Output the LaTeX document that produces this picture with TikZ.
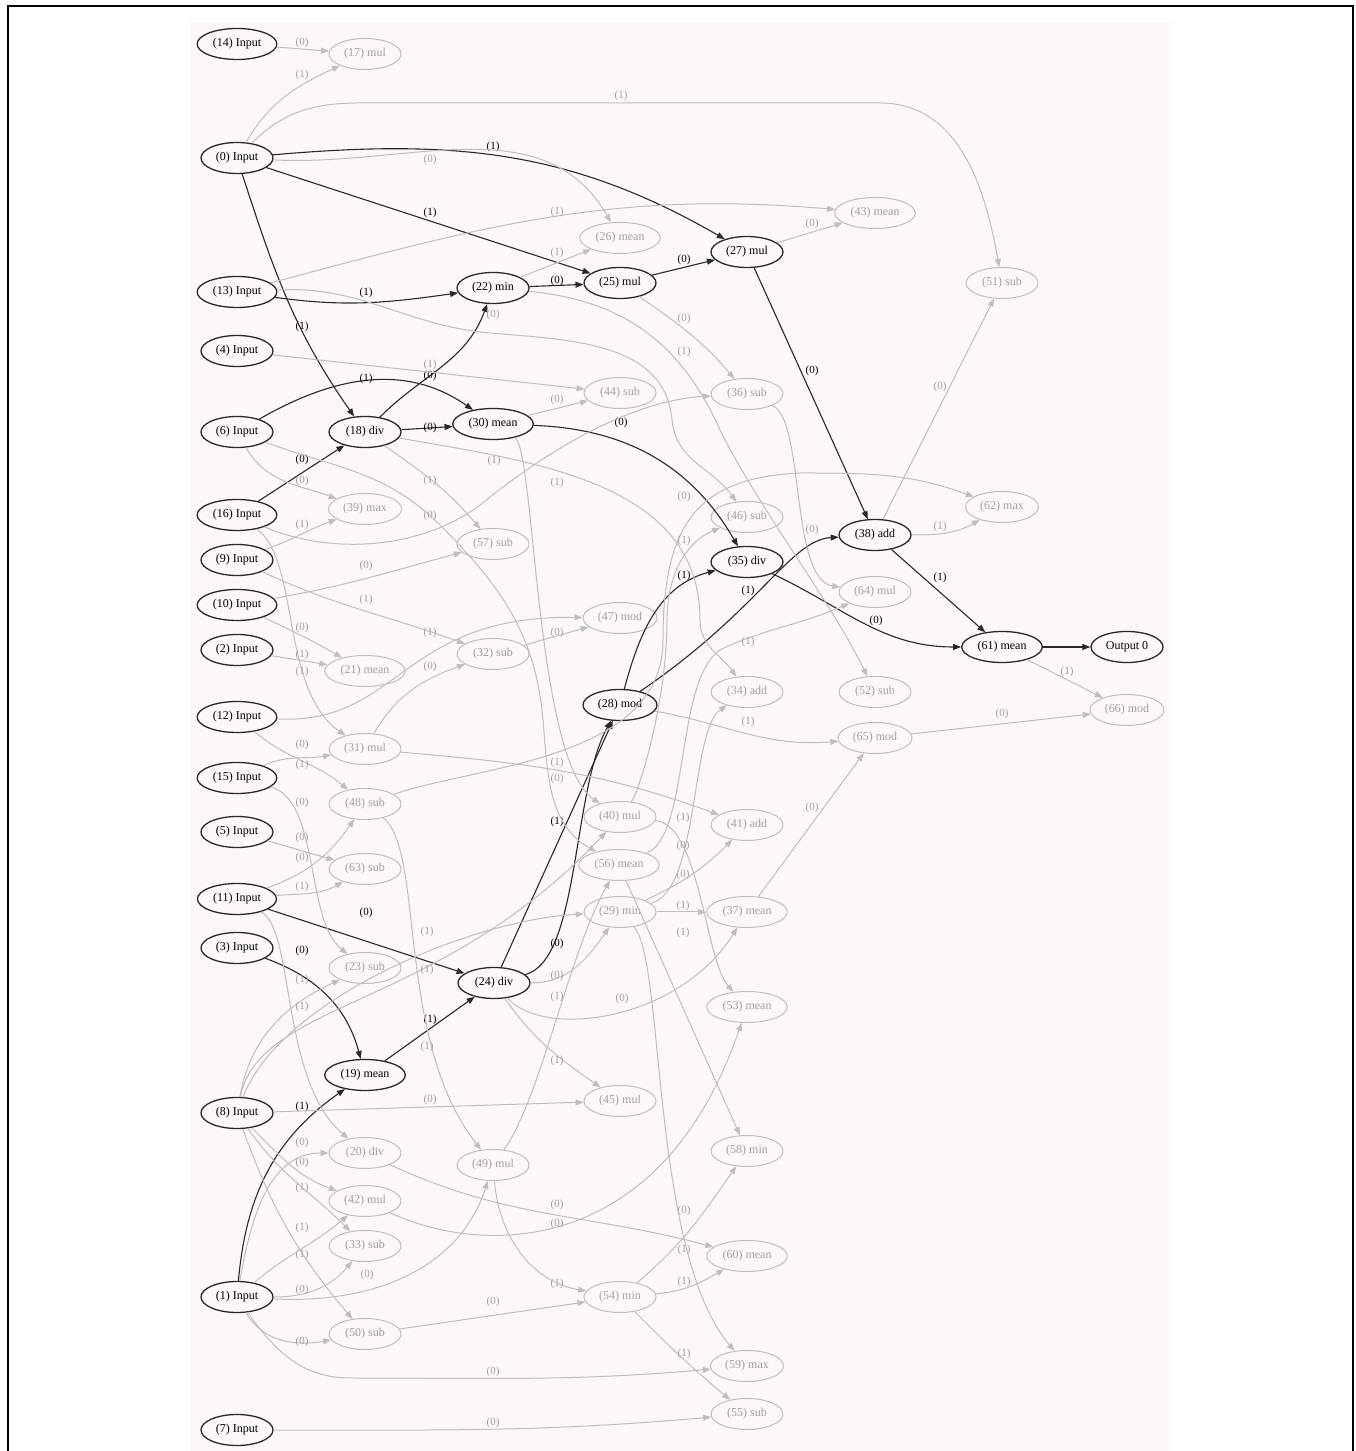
\documentclass[tikz,border=0pt]{standalone}
\usepackage{fontspec}
\setmainfont{Liberation Serif}
\usetikzlibrary{arrows.meta,shapes.geometric}
\definecolor{pinkbg}{RGB}{253,248,247}
\definecolor{dimline}{RGB}{190,190,190}
\definecolor{dimtext}{RGB}{160,160,160}
\definecolor{liveline}{RGB}{40,40,40}
\tikzset{
  box/.style={ellipse, minimum width=72pt, minimum height=31pt, inner xsep=4pt, inner ysep=0pt,
    text height=8.5pt, text depth=2.5pt, font=\fontsize{12}{14}\selectfont},
  live/.style={box, draw=liveline, line width=1.3pt, text=black},
  dim/.style={box, draw=dimline, line width=1pt, text=dimtext},
  wire/.style={draw=liveline, line width=1.1pt, -{Triangle[length=8pt,width=6pt]}},
  faint/.style={draw=dimline, line width=1pt, -{Triangle[length=8pt,width=6pt]}},
  lbl/.style={font=\fontsize{11}{13}\selectfont, inner sep=0pt, text=black},
  flbl/.style={lbl, text=dimtext},
}
\begin{document}
\begin{tikzpicture}[x=1pt,y=1pt]
  \useasboundingbox (0,0) rectangle (1356,1451);
  \fill[pinkbg] (190,0) rectangle (1171,1429);
  \draw[line width=1.5pt] (8,-10) rectangle (1353,1445);

  % inputs
  \node[live] (i14) at (237,1407) {(14) Input};
  \node[live] (i0)  at (237,1293) {(0) Input};
  \node[live] (i13) at (237,1159) {(13) Input};
  \node[live] (i4)  at (237,1100) {(4) Input};
  \node[live] (i6)  at (237,1019) {(6) Input};
  \node[live] (i16) at (237,936) {(16) Input};
  \node[live] (i9)  at (237,891) {(9) Input};
  \node[live] (i10) at (237,846) {(10) Input};
  \node[live] (i2)  at (237,801) {(2) Input};
  \node[live] (i12) at (237,734) {(12) Input};
  \node[live] (i15) at (237,673) {(15) Input};
  \node[live] (i5)  at (237,619) {(5) Input};
  \node[live] (i11) at (237,552) {(11) Input};
  \node[live] (i3)  at (237,503) {(3) Input};
  \node[live] (i8)  at (237,338) {(8) Input};
  \node[live] (i1)  at (237,154) {(1) Input};
  \node[live] (i7)  at (237,21) {(7) Input};

  % operations
  \node[dim]  (n17) at (365,1397) {(17) mul};
  \node[live] (n18) at (365,1019) {(18) div};
  \node[dim]  (n39) at (365,942) {(39) max};
  \node[dim]  (n21) at (365,780) {(21) mean};
  \node[dim]  (n31) at (365,702) {(31) mul};
  \node[dim]  (n48) at (365,647) {(48) sub};
  \node[dim]  (n63) at (365,582) {(63) sub};
  \node[dim]  (n23) at (365,483) {(23) sub};
  \node[live] (n19) at (365,376) {(19) mean};
  \node[dim]  (n20) at (365,298) {(20) div};
  \node[dim]  (n42) at (365,250) {(42) mul};
  \node[dim]  (n33) at (365,205) {(33) sub};
  \node[dim]  (n50) at (365,117) {(50) sub};

  \node[live] (n22) at (493,1163) {(22) min};
  \node[live] (n30) at (493,1027) {(30) mean};
  \node[dim]  (n57) at (493,907) {(57) sub};
  \node[dim]  (n32) at (493,797) {(32) sub};
  \node[live] (n24) at (494,468) {(24) div};
  \node[dim]  (n49) at (493,286) {(49) mul};

  \node[dim]  (n26) at (620,1213) {(26) mean};
  \node[live] (n25) at (620,1168) {(25) mul};
  \node[dim]  (n44) at (620,1058) {(44) sub};
  \node[dim]  (n47) at (620,833) {(47) mod};
  \node[live] (n28) at (620,746) {(28) mod};
  \node[dim]  (n40) at (620,634) {(40) mul};
  \node[dim]  (n56) at (619,586) {(56) mean};
  \node[dim]  (n29) at (620,539) {(29) min};
  \node[dim]  (n45) at (620,350) {(45) mul};
  \node[dim]  (n54) at (620,154) {(54) min};

  \node[live] (n27) at (747,1199) {(27) mul};
  \node[dim]  (n36) at (747,1057) {(36) sub};
  \node[dim]  (n46) at (747,934) {(46) sub};
  \node[live] (n35) at (747,889) {(35) div};
  \node[dim]  (n34) at (747,759) {(34) add};
  \node[dim]  (n41) at (747,626) {(41) add};
  \node[dim]  (n37) at (747,539) {(37) mean};
  \node[dim]  (n53) at (747,444) {(53) mean};
  \node[dim]  (n58) at (747,300) {(58) min};
  \node[dim]  (n60) at (747,195) {(60) mean};
  \node[dim]  (n59) at (747,85) {(59) max};
  \node[dim]  (n55) at (747,37) {(55) sub};

  \node[dim]  (n43) at (875,1238) {(43) mean};
  \node[live] (n38) at (875,916) {(38) add};
  \node[dim]  (n64) at (875,859) {(64) mul};
  \node[dim]  (n52) at (875,759) {(52) sub};
  \node[dim]  (n65) at (875,713) {(65) mod};

  \node[dim]  (n51) at (1002,1168) {(51) sub};
  \node[dim]  (n62) at (1002,944) {(62) max};
  \node[live] (n61) at (1002,804) {(61) mean};
  \node[live] (out) at (1127,804) {Output 0};
  \node[dim]  (n66) at (1127,741) {(66) mod};

  % live edges
  \draw[wire] (i0) to[out=5,in=150] (n27) node[lbl] at (493,1304) {(1)};
  \draw[wire] (i0) -- (n25) node[lbl] at (430,1238) {(1)};
  \draw[wire] (i0) to[out=-72,in=125] (n18) node[lbl] at (302,1124) {(1)};
  \draw[wire] (i13) to[out=-8,in=188] (n22) node[lbl] at (366,1158) {(1)};
  \draw[wire] (n18) to[out=45,in=-110] (n22) node[lbl] at (430,1075) {(0)};
  \draw[wire] (i6) to[out=30,in=145] (n30) node[lbl] at (366,1072) {(1)};
  \draw[wire] (n18) -- (n30) node[lbl] at (430,1023) {(0)};
  \draw[wire] (i16) -- (n18) node[lbl] at (302,991) {(0)};
  \draw[wire] (n22) -- (n25) node[lbl] at (557,1170) {(0)};
  \draw[wire] (n25) -- (n27) node[lbl] at (684,1191) {(0)};
  \draw[wire] (n27) -- (n38) node[lbl] at (812,1080) {(0)};
  \draw[wire] (n30) to[out=-2,in=120] (n35) node[lbl] at (621,1028) {(0)};
  \draw[wire] (n28) to[out=75,in=195] (n35) node[lbl] at (684,875) {(1)};
  \draw[wire] (n28) .. controls (760,841) and (790,911) .. (n38) node[lbl] at (748,860) {(1)};
  \draw[wire] (n35) to[out=-25,in=180] (n61) node[lbl] at (876,830) {(0)};
  \draw[wire] (n38) -- (n61) node[lbl] at (940,873) {(1)};
  \draw[wire] (n61) -- (out);
  \draw[wire] (i11) -- (n24) node[lbl] at (366,538) {(0)};
  \draw[wire] (i3) to[out=-20,in=105] (n19) node[lbl] at (302,500) {(0)};
  \draw[wire] (n19) -- (n24) node[lbl] at (430,431) {(1)};
  \draw[wire] (n24) -- (n28) node[lbl] at (557,629) {(1)};
  \draw[wire] (n24) .. controls (580,491) and (572,661) .. (n28) node[lbl] at (557,507) {(0)};
  \draw[wire] (i1) to[out=85,in=215] (n19) node[lbl] at (302,344) {(1)};

  % faint edges
  \draw[faint] (i14) -- (n17) node[flbl] at (302,1408) {(0)};
  \draw[faint] (i0) to[out=60,in=205] (n17) node[flbl] at (302,1376) {(1)};
  \draw[faint] (i0) to[out=45,in=180] (360,1348) -- (880,1348) to[out=0,in=100] (n51) node[flbl] at (621,1355) {(1)};
  \draw[faint] (i0) to[out=-3,in=120] (n26) node[flbl] at (430,1291) {(0)};
  \draw[faint] (n22) -- (n26) node[flbl] at (557,1198) {(1)};
  \draw[faint] (i13) to[out=15,in=175] (n43) node[flbl] at (557,1239) {(1)};
  \draw[faint] (n27) -- (n43) node[flbl] at (812,1227) {(0)};
  \draw[faint] (n38) -- (n51) node[flbl] at (940,1064) {(0)};
  \draw[faint] (i4) -- (n44) node[flbl] at (430,1086) {(1)};
  \draw[faint] (n30) -- (n44) node[flbl] at (557,1051) {(0)};
  \draw[faint] (n25) to[out=-35,in=130] (n36) node[flbl] at (684,1132) {(0)};
  \draw[faint] (i16) .. controls (330,896) and (420,901) .. (480,946) .. controls (560,1011) and (640,1051) .. (n36) node[flbl] at (557,968) {(1)};
  \draw[faint] (i6) to[out=-60,in=160] (n39) node[flbl] at (302,970) {(0)};
  \draw[faint] (i9) to[out=20,in=200] (n39) node[flbl] at (302,926) {(1)};
  \draw[faint] (n18) to[out=-35,in=130] (n57) node[flbl] at (430,970) {(1)};
  \draw[faint] (i10) to[out=10,in=195] (n57) node[flbl] at (366,885) {(0)};
  \draw[faint] (i10) to[out=-25,in=150] (n21) node[flbl] at (302,823) {(0)};
  \draw[faint] (i2) -- (n21) node[flbl] at (302,796) {(1)};
  \draw[faint] (i16) .. controls (300,891) and (280,761) .. (n31) node[flbl] at (302,779) {(1)};
  \draw[faint] (i15) to[out=25,in=190] (n31) node[flbl] at (302,706) {(0)};
  \draw[faint] (i9) to[out=-25,in=160] (n32) node[flbl] at (366,851) {(1)};
  \draw[faint] (n31) to[out=60,in=200] (n32) node[flbl] at (430,784) {(0)};
  \draw[faint] (i12) .. controls (400,726) and (400,836) .. (n47) node[flbl] at (430,818) {(1)};
  \draw[faint] (n32) -- (n47) node[flbl] at (557,818) {(0)};
  \draw[faint] (i12) to[out=-40,in=140] (n48) node[flbl] at (302,686) {(1)};
  \draw[faint] (i11) to[out=20,in=235] (n48) node[flbl] at (302,593) {(0)};
  \draw[faint] (i5) -- (n63) node[flbl] at (302,613) {(0)};
  \draw[faint] (i11) to[out=5,in=210] (n63) node[flbl] at (302,564) {(1)};
  \draw[faint] (i15) .. controls (320,651) and (305,531) .. (n23) node[flbl] at (302,648) {(0)};
  \draw[faint] (i8) to[out=80,in=205] (n23) node[flbl] at (302,471) {(1)};
  \draw[faint] (i11) .. controls (295,521) and (280,371) .. (n20) node[flbl] at (302,444) {(1)};
  \draw[faint] (i8) -- (n45) node[flbl] at (430,351) {(0)};
  \draw[faint] (i1) to[out=80,in=180] (n20) node[flbl] at (302,308) {(0)};
  \draw[faint] (i8) to[out=-45,in=160] (n42) node[flbl] at (302,288) {(0)};
  \draw[faint] (i8) to[out=-55,in=135] (n33) node[flbl] at (302,263) {(1)};
  \draw[faint] (i8) to[out=-70,in=130] (n50) node[flbl] at (302,196) {(1)};
  \draw[faint] (i1) to[out=40,in=220] (n42) node[flbl] at (302,223) {(1)};
  \draw[faint] (i1) to[out=0,in=230] (n33) node[flbl] at (302,161) {(0)};
  \draw[faint] (i1) to[out=-3,in=252] (n49) node[flbl] at (367,176) {(0)};
  \draw[faint] (i8) .. controls (260,451) and (440,441) .. (n40) node[flbl] at (427,519) {(1)};
  \draw[faint] (i8) .. controls (280,451) and (470,531) .. (n29) node[flbl] at (427,481) {(1)};
  \draw[faint] (i1) to[out=-60,in=190] (n50) node[flbl] at (302,109) {(0)};
  \draw[faint] (i1) to[out=-55,in=180] (350,73) to[out=0,in=185] (n59) node[flbl] at (493,79) {(0)};
  \draw[faint] (i7) to[out=0,in=185] (n55) node[flbl] at (493,28) {(0)};
  \draw[faint] (n20) to[out=-25,in=165] (n60) node[flbl] at (557,246) {(0)};
  \draw[faint] (n42) .. controls (480,196) and (660,191) .. (n53) node[flbl] at (557,227) {(0)};
  \draw[faint] (n50) -- (n54) node[flbl] at (493,149) {(0)};
  \draw[faint] (n49) to[out=-85,in=170] (n54) node[flbl] at (557,167) {(1)};
  \draw[faint] (n49) .. controls (540,351) and (570,501) .. (n56) node[flbl] at (557,454) {(1)};
  \draw[faint] (n54) to[out=40,in=235] (n58) node[flbl] at (684,240) {(0)};
  \draw[faint] (n54) to[out=5,in=210] (n60) node[flbl] at (684,169) {(1)};
  \draw[faint] (n54) to[out=-45,in=140] (n55) node[flbl] at (684,97) {(1)};
  \draw[faint] (n29) .. controls (665,491) and (650,201) .. (n59) node[flbl] at (684,201) {(1)};
  \draw[faint] (n56) -- (n58) node[flbl] at (683,518) {(1)};
  \draw[faint] (n40) .. controls (700,626) and (705,491) .. (n53) node[flbl] at (683,633) {(1)};
  \draw[faint] (n24) to[out=0,in=235] (n29) node[flbl] at (557,475) {(0)};
  \draw[faint] (n24) .. controls (545,411) and (680,431) .. (n37) node[flbl] at (622,452) {(0)};
  \draw[faint] (n24) to[out=-55,in=145] (n45) node[flbl] at (557,390) {(1)};
  \draw[faint] (n29) -- (n37) node[flbl] at (683,545) {(1)};
  \draw[faint] (n29) to[out=25,in=225] (n41) node[flbl] at (683,576) {(0)};
  \draw[faint] (n31) to[out=-5,in=160] (n41) node[flbl] at (557,688) {(1)};
  \draw[faint] (n37) -- (n65) node[flbl] at (812,643) {(0)};
  \draw[faint] (n28) to[out=-10,in=185] (n65) node[flbl] at (748,729) {(1)};
  \draw[faint] (n65) -- (n66) node[flbl] at (1002,737) {(0)};
  \draw[faint] (n61) -- (n66) node[flbl] at (1067,779) {(1)};
  \draw[faint] (n38) to[out=0,in=210] (n62) node[flbl] at (940,924) {(1)};
  \draw[faint] (n18) to[out=-10,in=90] (700,831) to[out=-90,in=125] (n34) node[flbl] at (494,990) {(1)};
  \draw[faint] (i13) to[out=3,in=175] (490,1118) to[out=-5,in=95] (672,1031) to[out=-85,in=125] (n46) node[flbl] at (493,1136) {(0)};
  \draw[faint] (n22) .. controls (620,1151) and (680,1111) .. (720,1021) .. controls (760,941) and (830,851) .. (n52) node[flbl] at (684,1099) {(1)};
  \draw[faint] (n36) .. controls (805,1031) and (790,871) .. (n64) node[flbl] at (812,921) {(0)};
  \draw[faint] (n29) .. controls (700,561) and (690,721) .. (n34) node[flbl] at (683,605) {(0)};
  \draw[faint] (n56) .. controls (690,616) and (675,771) .. (720,801) .. controls (760,821) and (800,826) .. (n64) node[flbl] at (748,809) {(1)};
  \draw[faint] (n48) .. controls (480,686) and (663,691) .. (663,811) .. controls (663,931) and (700,973) .. (800,978) to[out=0,in=160] (n62) node[flbl] at (684,954) {(0)};
  \draw[faint] (n40) .. controls (640,661) and (667,751) .. (667,831) .. controls (667,881) and (690,911) .. (n46) node[flbl] at (684,910) {(1)};
  \draw[faint] (i6) to[out=-20,in=135] (440,926) to[out=-45,in=95] (543,731) to[out=-85,in=150] (n56) node[flbl] at (430,935) {(0)};
  \draw[faint] (n30) .. controls (535,1001) and (535,691) .. (n40) node[flbl] at (557,672) {(0)};
  \draw[faint] (n48) .. controls (425,601) and (395,411) .. (n49) node[flbl] at (427,404) {(1)};
\end{tikzpicture}
\end{document}
